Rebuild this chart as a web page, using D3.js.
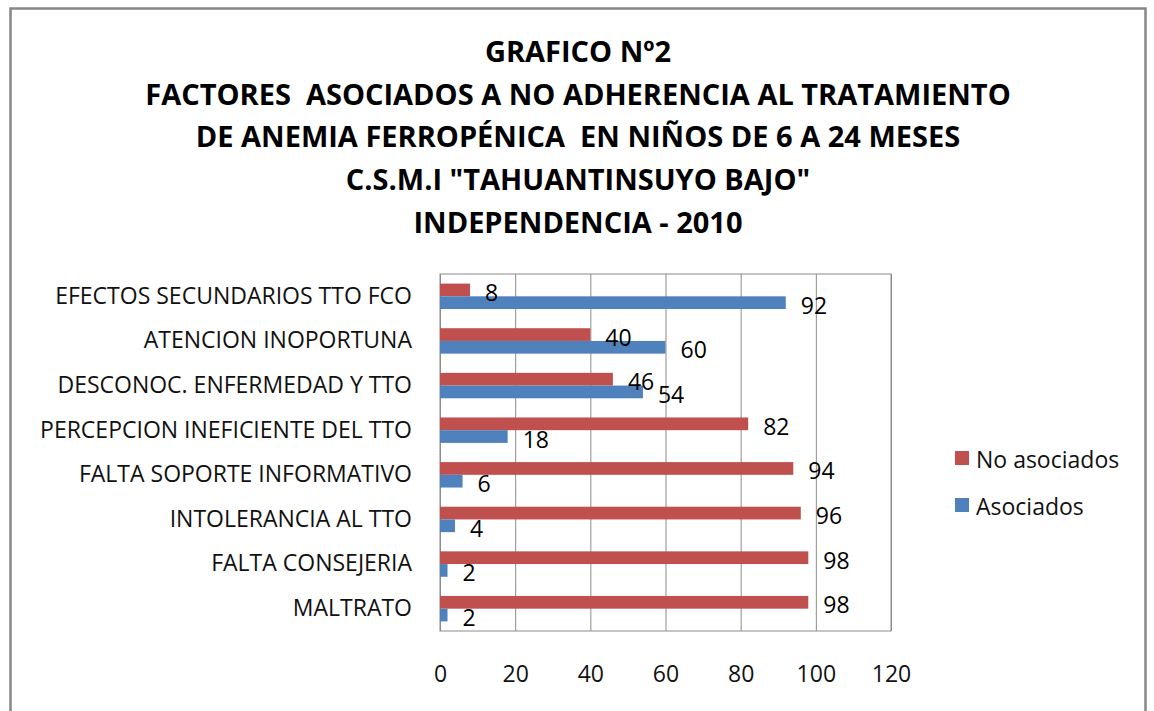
<!DOCTYPE html>
<html>
<head>
<meta charset="utf-8">
<script src="https://cdn.jsdelivr.net/npm/d3@7"></script>
<style>
  body { margin: 0; background: #fff; }
  svg { display: block; }
</style>
</head>
<body>
<script>
const titleLines = [
  'GRAFICO Nº2',
  'FACTORES  ASOCIADOS A NO ADHERENCIA AL TRATAMIENTO',
  'DE ANEMIA FERROPÉNICA  EN NIÑOS DE 6 A 24 MESES',
  'C.S.M.I "TAHUANTINSUYO BAJO"',
  'INDEPENDENCIA - 2010'
]
const categories = [
  'EFECTOS SECUNDARIOS TTO FCO',
  'ATENCION INOPORTUNA',
  'DESCONOC. ENFERMEDAD Y TTO',
  'PERCEPCION INEFICIENTE DEL TTO',
  'FALTA SOPORTE INFORMATIVO',
  'INTOLERANCIA AL TTO',
  'FALTA CONSEJERIA',
  'MALTRATO'
]
const seriesNames = ['No asociados', 'Asociados']
const noAsociados = [8, 40, 46, 82, 94, 96, 98, 98]
const asociados = [92, 60, 54, 18, 6, 4, 2, 2]
const xTicks = [0, 20, 40, 60, 80, 100, 120]

const w = 1154
const h = 711
const colors = { 'No asociados': '#C0504D', 'Asociados': '#4F81BD' }
const font = '"Open Sans", Lato, sans-serif'

const plot = { left: 440, right: 891, top: 274, bottom: 631 }

const svg = d3.select('body')
  .append('svg')
  .attr('width', w)
  .attr('height', h)

// outer chart frame
svg.append('rect')
  .attr('x', 10.5).attr('y', 8.5)
  .attr('width', 1135).attr('height', 720)
  .attr('fill', 'none')
  .attr('stroke', '#878787')
  .attr('stroke-width', 2.5)

// title
svg.append('g')
  .selectAll('text')
  .data(titleLines)
  .enter()
  .append('text')
  .attr('x', 578)
  .attr('y', (d, i) => 62 + i * 42.7)
  .attr('text-anchor', 'middle')
  .style('white-space', 'pre')
  .style('font-family', font)
  .style('font-weight', 'bold')
  .style('font-size', '29px')
  .style('fill', '#000')
  .text(d => d)

const xScale = d3.scaleLinear()
  .domain([0, 120])
  .range([plot.left, plot.right])

const yScale = d3.scaleBand()
  .domain(categories)
  .range([plot.top, plot.bottom])
  .paddingInner(0.43)
  .paddingOuter(0.215)

const sScale = d3.scaleBand()
  .domain(seriesNames)
  .range([0, yScale.bandwidth()])

const rows = categories.map((c, i) => ({
  cat: c,
  vals: [
    { s: 'No asociados', v: noAsociados[i] },
    { s: 'Asociados', v: asociados[i] }
  ]
}))

// gridlines
svg.append('g')
  .attr('transform', `translate(0, ${plot.bottom})`)
  .call(d3.axisBottom(xScale).tickValues(xTicks).tickSize(-(plot.bottom - plot.top)).tickFormat(''))
  .call(g => g.select('.domain').remove())
  .selectAll('line')
  .attr('stroke', '#8c8c8c')

// plot border
svg.append('rect')
  .attr('x', plot.left).attr('y', plot.top)
  .attr('width', plot.right - plot.left).attr('height', plot.bottom - plot.top)
  .attr('fill', 'none')
  .attr('stroke', '#8c8c8c')

// bars
const groups = svg.selectAll('.cat')
  .data(rows)
  .enter()
  .append('g')
  .attr('class', 'cat')
  .attr('transform', d => `translate(0, ${yScale(d.cat)})`)

groups.selectAll('rect')
  .data(d => d.vals)
  .enter()
  .append('rect')
  .attr('x', xScale(0))
  .attr('y', d => sScale(d.s))
  .attr('width', d => xScale(d.v) - xScale(0))
  .attr('height', sScale.bandwidth())
  .attr('fill', d => colors[d.s])

groups.selectAll('text')
  .data(d => d.vals)
  .enter()
  .append('text')
  .attr('x', d => xScale(d.v) + 15)
  .attr('y', d => sScale(d.s) + sScale.bandwidth() / 2 + 2)
  .attr('dominant-baseline', 'central')
  .style('font-family', font)
  .style('font-size', '23px')
  .style('fill', '#000')
  .text(d => d.v)

// category axis
svg.append('g')
  .attr('transform', `translate(${plot.left}, 0)`)
  .call(d3.axisLeft(yScale).tickSize(0).tickPadding(28))
  .call(g => g.select('.domain').remove())
  .selectAll('text')
  .style('font-family', font)
  .style('font-size', '23px')
  .style('fill', '#111')

// value axis
svg.append('g')
  .attr('transform', `translate(0, ${plot.bottom})`)
  .call(d3.axisBottom(xScale).tickValues(xTicks).tickSize(0).tickPadding(35))
  .call(g => g.select('.domain').remove())
  .selectAll('text')
  .style('font-family', font)
  .style('font-size', '23px')
  .style('fill', '#111')

// legend
const legend = svg.append('g')
  .selectAll('g')
  .data(seriesNames)
  .enter()
  .append('g')
  .attr('transform', (d, i) => `translate(955, ${458 + i * 47})`)

legend.append('rect')
  .attr('x', 0).attr('y', -7)
  .attr('width', 14).attr('height', 14)
  .attr('fill', d => colors[d])

legend.append('text')
  .attr('x', 21)
  .attr('y', 1)
  .attr('dominant-baseline', 'central')
  .style('font-family', font)
  .style('font-size', '23px')
  .style('fill', '#111')
  .text(d => d)
</script>
</body>
</html>
